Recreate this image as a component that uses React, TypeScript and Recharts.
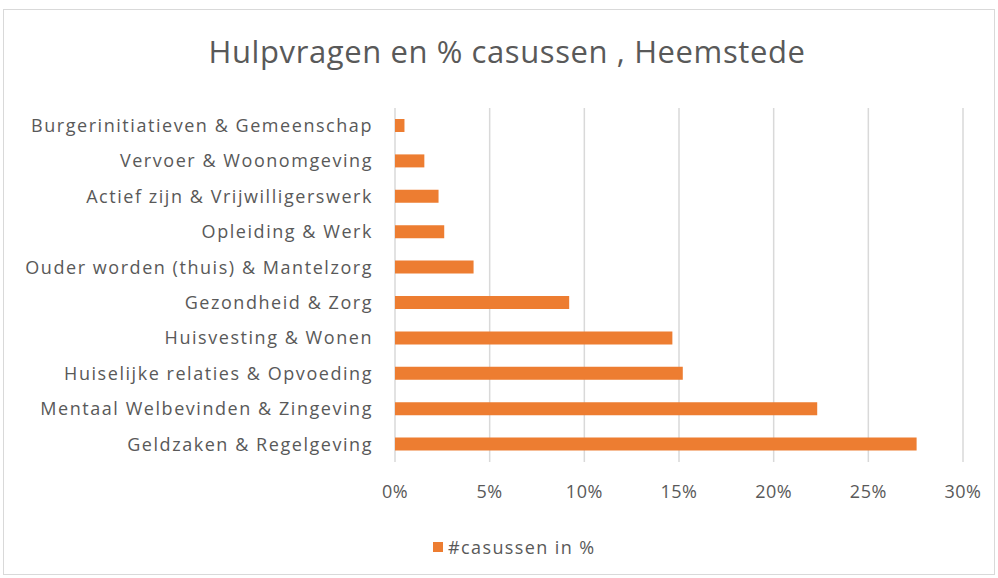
import React from "react";
import { BarChart, Bar, XAxis, YAxis, CartesianGrid } from "recharts";

const categories = [
  "Burgerinitiatieven & Gemeenschap",
  "Vervoer & Woonomgeving",
  "Actief zijn & Vrijwilligerswerk",
  "Opleiding & Werk",
  "Ouder worden (thuis) & Mantelzorg",
  "Gezondheid & Zorg",
  "Huisvesting & Wonen",
  "Huiselijke relaties & Opvoeding",
  "Mentaal Welbevinden & Zingeving",
  "Geldzaken & Regelgeving",
];

const casussen = [0.5, 1.55, 2.3, 2.6, 4.15, 9.2, 14.65, 15.2, 22.3, 27.55];

const xTicks = [0, 5, 10, 15, 20, 25, 30];

const chartData = categories.map((name, i) => ({ name, value: casussen[i] }));

const FONT = "'Open Sans', sans-serif";
const TEXT = "#595959";
const ORANGE = "#ED7D31";

export default function App() {
  return (
    <div style={{ position: "absolute", left: 0, top: 0, width: 998, height: 578, background: "#fff", fontFamily: FONT }}>
      <div style={{ position: "absolute", left: 3, top: 9, width: 992, height: 566, border: "1px solid #d9d9d9", boxSizing: "border-box" }} />
      <div style={{ position: "absolute", left: 0, top: 30, width: 1014, textAlign: "center", fontSize: 31, letterSpacing: 0.6, color: TEXT }}>
        Hulpvragen en % casussen , Heemstede
      </div>
      <div style={{ position: "absolute", left: 0, top: 0 }}>
        <BarChart
          width={998}
          height={578}
          layout="vertical"
          data={chartData}
          margin={{ top: 108, right: 35, bottom: 0, left: 0 }}
        >
          <CartesianGrid horizontal={false} stroke="#d9d9d9" strokeWidth={1.5} />
          <XAxis
            type="number"
            domain={[0, 30]}
            ticks={xTicks}
            tickFormatter={(v) => `${v}%`}
            axisLine={false}
            tickLine={false}
            tickSize={0}
            tickMargin={23}
            height={116}
            tick={{ fill: TEXT, fontSize: 18, fontFamily: FONT, letterSpacing: 0.5 }}
            interval={0}
          />
          <YAxis
            type="category"
            dataKey="name"
            width={395}
            axisLine={false}
            tickLine={false}
            tickSize={0}
            tickMargin={22}
            interval={0}
            tick={{ fill: TEXT, fontSize: 18, fontFamily: FONT, letterSpacing: 1.55 }}
          />
          <Bar dataKey="value" fill={ORANGE} barSize={13} isAnimationActive={false} />
        </BarChart>
      </div>
      <div style={{ position: "absolute", left: 433, top: 535, display: "flex", alignItems: "center", fontSize: 18, letterSpacing: 1.4, color: TEXT }}>
        <span style={{ display: "inline-block", width: 10, height: 10, background: ORANGE, marginRight: 5 }} />
        #casussen in %
      </div>
    </div>
  );
}
